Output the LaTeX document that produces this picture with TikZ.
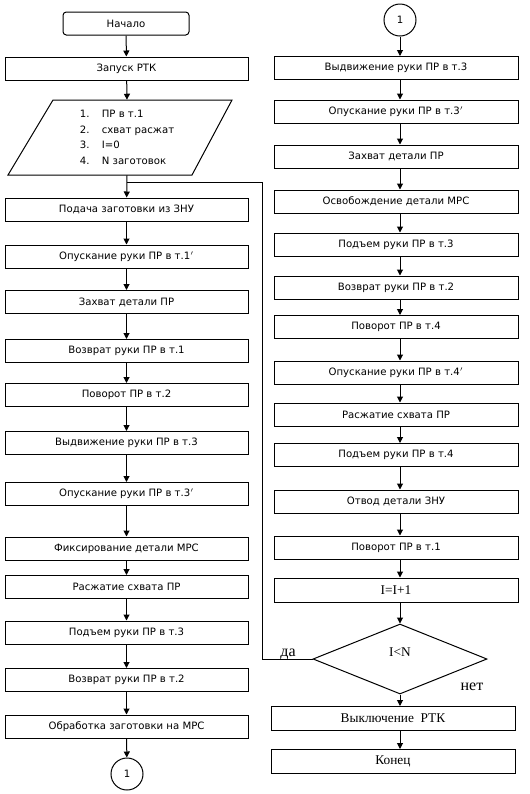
\documentclass[tikz,border=0pt]{standalone}
\usepackage{fontspec}
\setmainfont{DejaVu Sans}
\newfontfamily\serifrm{Liberation Serif}
\usetikzlibrary{arrows.meta,shapes.geometric}
\begin{document}
\begin{tikzpicture}[x=0.75pt,y=-0.75pt,
  every node/.style={inner sep=0pt},
  box/.style={draw, line width=0.75pt, minimum height=23*0.75pt, font=\fontsize{7.6}{9}\selectfont},
  lbox/.style={box, minimum width=243*0.75pt},
  rbox/.style={box, minimum width=244*0.75pt},
  sbox/.style={box, minimum width=244*0.75pt, minimum height=24*0.75pt, font=\serifrm\fontsize{10}{12}\selectfont},
  conn/.style={line width=0.75pt},
  arr/.style={conn, -{Triangle[length=4.5pt,width=4.5pt]}},
  conbox/.style={draw, circle, line width=0.75pt, minimum size=32*0.75pt, font=\fontsize{7.6}{9}\selectfont},
  lab/.style={font=\serifrm\fontsize{12}{14}\selectfont}
]
\useasboundingbox (0,0) rectangle (530,794);
% left column
\node[box, rounded corners=2.5pt, minimum width=126*0.75pt] (start) at (126,23.5) {Начало};
\node[lbox] (zap) at (126.5,68.5) {Запуск РТК};
\node[minimum width=1pt, minimum height=75*0.75pt, align=left, font=\fontsize{7.6}{11.6}\selectfont] (para) at (127,137.5)
  {\makebox[16.5pt][l]{1.}ПР в т.1\\\makebox[16.5pt][l]{2.}схват расжат\\\makebox[16.5pt][l]{3.}I=0\\\makebox[16.5pt][l]{4.}N заготовок};
\coordinate (p1) at (53,100); \coordinate (p2) at (232,100);
\coordinate (p3) at (192,175); \coordinate (p4) at (8,175);
\draw[conn] (p1) -- (p2) -- (p3) -- (p4) -- cycle;
\node[lbox] (l1) at (126.5,209.5) {Подача заготовки из ЗНУ};
\node[lbox] (l2) at (126.5,256.5) {Опускание руки ПР в т.1$'$};
\node[lbox] (l3) at (126.5,302) {Захват детали ПР};
\node[lbox] (l4) at (126.5,351) {Возврат руки ПР в т.1};
\node[lbox] (l5) at (126.5,395) {Поворот ПР в т.2};
\node[lbox] (l6) at (126.5,443) {Выдвижение руки ПР в т.3};
\node[lbox] (l7) at (126.5,494) {Опускание руки ПР в т.3$'$};
\node[lbox] (l8) at (126.5,548.5) {Фиксирование детали МРС};
\node[lbox] (l9) at (126.5,587) {Расжатие схвата ПР};
\node[lbox] (l10) at (126.5,632.5) {Подъем руки ПР в т.3};
\node[lbox] (l11) at (126.5,680) {Возврат руки ПР в т.2};
\node[lbox] (l12) at (126.5,726.5) {Обработка заготовки на МРС};
\node[conbox] (c1) at (127,774) {1};
% right column
\node[conbox] (c2) at (400,20) {1};
\coordinate (rx) at (400,0);
\node[rbox] (r1) at (396,68) {Выдвижение руки ПР в т.3};
\node[rbox] (r2) at (396,111.5) {Опускание руки ПР в т.3$'$};
\node[rbox] (r3) at (396,156.5) {Захват детали ПР};
\node[rbox] (r4) at (396,201.5) {Освобождение детали МРС};
\node[rbox] (r5) at (396,244.5) {Подъем руки ПР в т.3};
\node[rbox] (r6) at (396,287.5) {Возврат руки ПР в т.2};
\node[rbox] (r7) at (396,327) {Поворот ПР в т.4};
\node[rbox] (r8) at (396,372.5) {Опускание руки ПР в т.4$'$};
\node[rbox] (r9) at (396,414.5) {Расжатие схвата ПР};
\node[rbox] (r10) at (396,455) {Подъем руки ПР в т.4};
\node[rbox] (r11) at (396,501.5) {Отвод детали ЗНУ};
\node[rbox] (r12) at (396,547.5) {Поворот ПР в т.1};
\node[sbox] (r13) at (396,590) {I=I+1};
\node[draw, diamond, line width=0.75pt, minimum width=174*0.75pt, minimum height=70*0.75pt, aspect=2.486] (dec) at (400,659) {};
\node[font=\serifrm\fontsize{10}{12}\selectfont] (dect) at (400,652) {I<N};
\node[sbox] (off) at (393,718.5) {Выключение\ \ РТК};
\node[sbox] (fin) at (393,761.5) {Конец};
\node[lab, anchor=base] (da) at (288,656) {да};
\node[lab, anchor=base] (net) at (472,690) {нет};
% left connectors
\draw[arr] (start) -- (zap);
\draw[arr] (zap) -- (para.north);
\draw[arr] (para.south) -- (l1);
\foreach \a/\b in {l1/l2,l2/l3,l3/l4,l4/l5,l5/l6,l6/l7,l7/l8,l8/l9,l9/l10,l10/l11,l11/l12,l12/c1}
  \draw[arr] (\a) -- (\b);
% right connectors
\draw[arr] (c2) -- (r1.north -| rx);
\foreach \a/\b in {r1/r2,r2/r3,r3/r4,r4/r5,r5/r6,r6/r7,r7/r8,r8/r9,r9/r10,r10/r11,r11/r12,r12/r13}
  \draw[arr] (\a.south -| rx) -- (\b.north -| rx);
\draw[arr] (r13.south -| rx) -- (dec.north);
\draw[arr] (dec.south) -- (off.north -| rx);
\draw[arr] (off.south -| rx) -- (fin.north -| rx);
% loop back
\coordinate (lpb) at (262,659);
\coordinate (lpt) at (262,182);
\coordinate (join) at (127,182);
\draw[conn] (dec.west) -- (lpb) -- (lpt) -- (join);
\end{tikzpicture}
\end{document}
